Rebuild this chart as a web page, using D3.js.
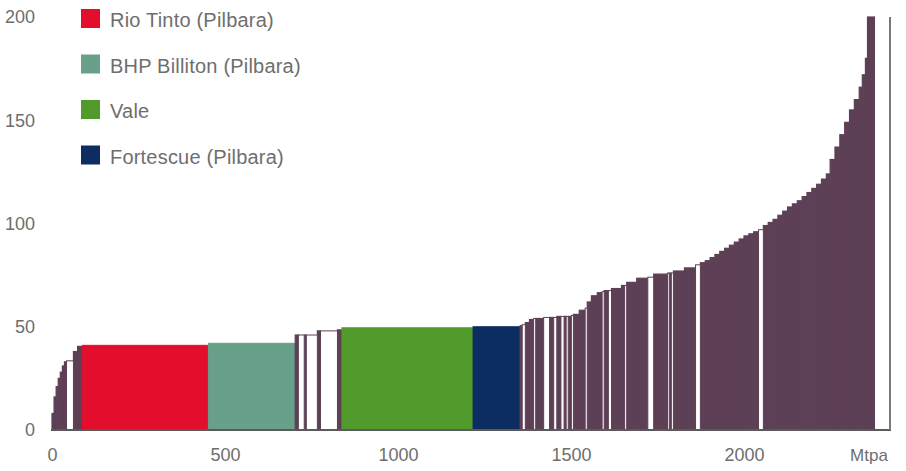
<!DOCTYPE html>
<html>
<head>
<meta charset="utf-8">
<script src="https://cdn.jsdelivr.net/npm/d3@7"></script>
<style>
    body { margin: 0; background: #fff; }
    svg text { font-family: "Liberation Sans", Arial, sans-serif; fill: #6e6e6e; }
</style>
</head>
<body>
<div id="chart"></div>
<script>
// capacity of each producer block (Mtpa), in cost order
const capacities = [
    6, 6, 6, 6, 6, 6, 6, 20, 12, 14,
    364, 251,
    9, 17, 6, 32, 9, 49, 13,
    379, 136,
    6, 9, 12, 12, 6, 23, 17, 12, 9, 12, 9, 6, 6, 9, 6,
    17, 17, 6, 12, 17, 14, 6, 12, 9, 29,
    9, 6, 29, 32, 17, 40, 5, 6, 6, 32, 32, 14,
    14, 14, 14, 14, 14, 14, 14, 14, 14, 14, 14, 14, 14,
    14, 14, 14, 14, 14, 14, 14, 14, 14, 14, 14, 14, 14, 11,
    14, 14, 14, 14, 14, 14, 9, 9, 6, 20
];
// cash cost of each block (US$/t)
const costs = [
    8, 16, 21, 25, 28, 31, 33, 33.5, 38, 40.5,
    41, 42,
    46, 46, 46, 46, 48, 48, 48.5,
    49.5, 50,
    50.5, 51, 52, 53.5, 54, 54, 54.5, 54.5, 54.5, 55, 55, 55, 55, 55, 55.5,
    56, 58, 59, 62, 65, 66.5, 67, 67.5, 67.5, 68.5,
    70, 70, 71.5, 73.5, 74, 75.5, 76, 76, 76, 77, 78.5, 80,
    81, 82, 83.5, 85, 86.5, 88, 89.5, 91, 92.5, 94, 95, 96, 97,
    99, 100.5, 102, 104, 106, 108, 109.5, 111, 113, 115, 117, 119, 121.5, 124,
    131, 137, 143, 149, 155, 160, 166, 172, 180, 200
];
// owner code: o = other, w = other (blank), r/b/v/f = highlighted producers
const owners = [
    "o", "o", "o", "o", "o", "o", "o", "w", "o", "o",
    "r", "b",
    "o", "w", "o", "w", "o", "w", "o",
    "v", "f",
    "o", "w", "o", "o", "w", "o", "w", "o", "w", "o", "w", "o", "w", "o", "w",
    "o", "o", "w", "o", "o", "o", "w", "o", "w", "o",
    "o", "w", "o", "o", "w", "o", "w", "o", "w", "o", "o", "w",
    "o", "o", "o", "o", "o", "o", "o", "o", "o", "o", "o", "o", "w",
    "o", "o", "o", "o", "o", "o", "o", "o", "o", "o", "o", "o", "o", "o",
    "o", "o", "o", "o", "o", "o", "o", "o", "o", "o"
];

const legendCodes = ["r", "b", "v", "f"];
const legendLabels = ["Rio Tinto (Pilbara)", "BHP Billiton (Pilbara)", "Vale", "Fortescue (Pilbara)"];
const xTicks = [0, 500, 1000, 1500, 2000];
const yTicks = [0, 50, 100, 150, 200];

const colours = {
    o: "#5e4056",
    w: "#ffffff",
    r: "#e30d2e",
    b: "#68a08a",
    v: "#519b2c",
    f: "#0d2c62"
};

const width = 906, height = 471;

const svg = d3.select("#chart")
    .append("svg")
    .attr("width", width)
    .attr("height", height);

const x = d3.scaleLinear()
    .domain([0, 2422])
    .range([52, 890]);
const y = d3.scaleLinear()
    .domain([0, 200])
    .range([430, 17]);

// running start of each block along the capacity axis
let blocks = [];
let start = 0;
capacities.forEach(function(c, i) {
    blocks.push({ x0: start, x1: start + c, cost: costs[i], owner: owners[i] });
    start += c;
});

// filled blocks first, blank ones on top so their outline shows
let order = blocks.filter(d => d.owner !== "w").concat(blocks.filter(d => d.owner === "w"));

svg.append("g")
    .attr("class", "blocks")
    .selectAll("rect")
    .data(order)
    .enter()
    .append("rect")
    .attr("x", d => x(d.x0))
    .attr("y", d => y(d.cost))
    .attr("width", d => x(d.x1) - x(d.x0))
    .attr("height", d => y(0) - y(d.cost))
    .style("fill", d => colours[d.owner])
    .style("stroke", d => d.owner === "w" ? colours.o : colours[d.owner])
    .style("stroke-width", d => d.owner === "o" ? 1.2 : 1);

// base line and right edge
svg.append("line")
    .attr("x1", x(0) - 1).attr("x2", x(2422) + 1)
    .attr("y1", y(0)).attr("y2", y(0))
    .style("stroke", "#5a5a5a")
    .style("stroke-width", 2);
svg.append("line")
    .attr("x1", x(2422)).attr("x2", x(2422))
    .attr("y1", y(200)).attr("y2", y(0))
    .style("stroke", "#7a7a7a")
    .style("stroke-width", 2);

let xAxis = d3.axisBottom(x)
    .tickValues(xTicks)
    .tickFormat(d3.format("d"))
    .tickSize(0)
    .tickPadding(18);
let yAxis = d3.axisLeft(y)
    .tickValues(yTicks)
    .tickFormat(d3.format("d"))
    .tickSize(0)
    .tickPadding(3);

let gx = svg.append("g")
    .attr("transform", `translate(0, ${y(0)})`)
    .call(xAxis);
let gy = svg.append("g")
    .attr("transform", "translate(38, 0)")
    .call(yAxis);

[gx, gy].forEach(function(g) {
    g.select(".domain").remove();
    g.selectAll("text")
        .style("font-size", "18px")
        .style("font-family", "'Liberation Sans', Arial, sans-serif")
        .style("fill", "#6e6e6e");
});

svg.append("text")
    .attr("x", 869)
    .attr("y", 461)
    .attr("text-anchor", "middle")
    .style("font-size", "17px")
    .text("Mtpa");

// legend
let legend = svg.append("g").attr("class", "legend");
legendCodes.forEach(function(code, i) {
    let top = 9 + i * 45.5;
    legend.append("rect")
        .attr("x", 81)
        .attr("y", top)
        .attr("width", 19)
        .attr("height", 19)
        .style("fill", colours[code]);
    legend.append("text")
        .attr("x", 110)
        .attr("y", top + 18)
        .style("font-size", "20px")
        .style("letter-spacing", "0.2px")
        .text(legendLabels[i]);
});
</script>
</body>
</html>
